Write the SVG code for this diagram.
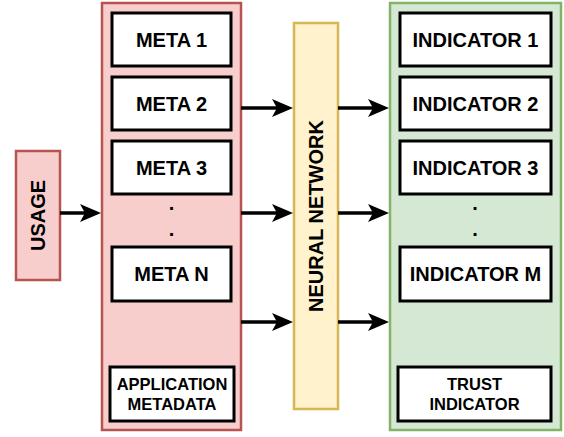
<svg xmlns="http://www.w3.org/2000/svg" width="564" height="437" viewBox="0 0 564 437">
<style>
text{font-family:"Liberation Sans",Arial,sans-serif;font-weight:bold;fill:#000;text-anchor:middle}
.big{font-size:20px}
.small{font-size:16.5px}
.box{fill:#fff;stroke:#000;stroke-width:3}
.red{fill:#f8cecc;stroke:#b85450;stroke-width:2.5}
.green{fill:#d5e8d4;stroke:#82b366;stroke-width:2.5}
.yellow{fill:#fff2cc;stroke:#d6b656;stroke-width:2.5}
.conn{stroke:#000;stroke-width:3.5;fill:none;marker-end:url(#arr)}
</style>
<defs>
<marker id="arr" markerUnits="userSpaceOnUse" markerWidth="22" markerHeight="20" refX="11" refY="10" orient="auto" viewBox="0 0 22 20">
<path d="M21,10 L0,1 L5,10 L0,19 Z" fill="#000"/>
</marker>
</defs>
<rect width="564" height="437" fill="#fff"/>
<g id="usage">
<rect class="red" x="16" y="151" width="44" height="129"/>
<text class="big" transform="translate(45,215.5) rotate(-90)">USAGE</text>
</g>
<g id="app-metadata">
<rect class="red" x="102" y="3" width="139" height="427"/>
<g id="meta1"><rect class="box" x="112" y="13" width="119" height="53"/><text class="big" x="171.5" y="47">META 1</text></g>
<g id="meta2"><rect class="box" x="112" y="77" width="119" height="53"/><text class="big" x="171.5" y="111">META 2</text></g>
<g id="meta3"><rect class="box" x="112" y="141" width="119" height="53"/><text class="big" x="171.5" y="175">META 3</text></g>
<text class="big" x="171.5" y="210">.</text>
<text class="big" x="171.5" y="236">.</text>
<g id="metaN"><rect class="box" x="112" y="247" width="119" height="54"/><text class="big" x="171.5" y="281">META N</text></g>
<g id="appmeta-label"><rect class="box" x="110" y="367" width="124" height="54"/><text class="small" x="172" y="390">APPLICATION</text><text class="small" x="172" y="409.5">METADATA</text></g>
</g>
<g id="neural-network">
<rect class="yellow" x="294" y="23" width="44" height="386"/>
<text class="big" transform="translate(323,216) rotate(-90)">NEURAL NETWORK</text>
</g>
<g id="trust-indicator">
<rect class="green" x="390" y="3" width="171" height="427"/>
<g id="ind1"><rect class="box" x="400" y="13" width="151" height="53"/><text class="big" x="475.5" y="47">INDICATOR 1</text></g>
<g id="ind2"><rect class="box" x="400" y="77" width="151" height="53"/><text class="big" x="475.5" y="111">INDICATOR 2</text></g>
<g id="ind3"><rect class="box" x="400" y="141" width="151" height="53"/><text class="big" x="475.5" y="175">INDICATOR 3</text></g>
<text class="big" x="475" y="210">.</text>
<text class="big" x="475" y="236">.</text>
<g id="indM"><rect class="box" x="400" y="247" width="151" height="54"/><text class="big" x="475.5" y="281">INDICATOR M</text></g>
<g id="trust-label"><rect class="box" x="398" y="367" width="153" height="54"/><text class="small" x="474.5" y="390">TRUST</text><text class="small" x="474.5" y="409.5">INDICATOR</text></g>
</g>
<g id="connectors">
<line class="conn" x1="60" y1="213" x2="91" y2="213"/>
<line class="conn" x1="241" y1="108" x2="283" y2="108"/>
<line class="conn" x1="241" y1="213" x2="283" y2="213"/>
<line class="conn" x1="241" y1="322" x2="283" y2="322"/>
<line class="conn" x1="338" y1="108" x2="379" y2="108"/>
<line class="conn" x1="338" y1="213" x2="379" y2="213"/>
<line class="conn" x1="338" y1="322" x2="379" y2="322"/>
</g>
</svg>
